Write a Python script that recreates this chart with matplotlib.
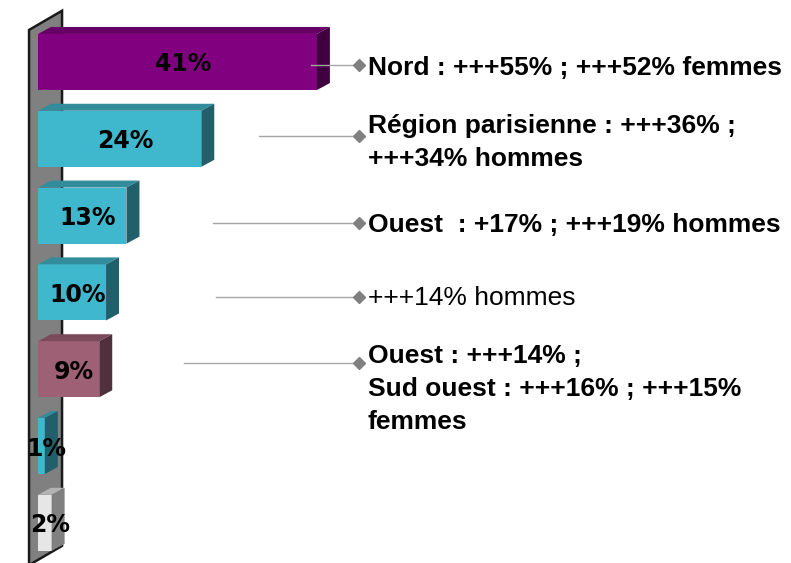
import matplotlib.pyplot as plt
from matplotlib.patches import Polygon

# bar values (top to bottom) and their labels
values = [41, 24, 13, 10, 9, 1, 2]
labels = ['41%', '24%', '13%', '10%', '9%', '1%', '2%']
bar_colors = ['purple', 'cyan', 'cyan', 'cyan', 'mauve', 'cyan', 'white']

# comments next to the first five bars
notes = [
    'Nord : +++55% ; +++52% femmes',
    'Région parisienne : +++36% ;\n+++34% hommes',
    'Ouest  : +17% ; +++19% hommes',
    '+++14% hommes',
    'Ouest : +++14% ;\nSud ouest : +++16% ; +++15%\nfemmes',
]
notes_bold = [True, True, True, False, True]

# callout layout: start of leader line (x), shift of line and first text baseline from bar centre (y)
note_line_x0 = [40.1, 32.5, 25.7, 26.2, 21.5]
note_line_dy = [0.04, -0.036, 0.096, 0.06, -0.08]
note_text_dy = [0.17, -0.076, 0.214, 0.164, -0.081]
line_step = 0.43

# front, top, side shades
shades = {
    'purple': ('#800080', '#660066', '#400040'),
    'cyan': ('#3fb7cd', '#328c9c', '#215f6b'),
    'mauve': ('#9e6075', '#7b4a5b', '#50303c'),
    'white': ('#e6e6e6', '#b3b3b3', '#808080'),
}

fig = plt.figure(figsize=(7.91, 5.63), dpi=100)
ax = fig.add_axes([0, 0, 1, 1])
ax.set_xlim(-5.59, 110.7)
ax.set_ylim(6.523, -0.807)
ax.axis('off')

h = 0.73            # bar thickness
dx, dy = 1.91, -0.091  # 3d depth of the bars

# back wall
wx, wdx, wdy = -1.32, 4.85, -0.25
wtop, wbot = -0.417, 6.55
wall = Polygon([(wx, wtop), (wx + wdx, wtop + wdy), (wx + wdx, wbot + wdy), (wx, wbot)],
               closed=True, fc='#808080', ec='#1a1a1a', lw=1.8, zorder=1)
ax.add_patch(wall)

ypos = list(range(len(values)))
ax.barh(ypos, values, height=h, color=[shades[c][0] for c in bar_colors], lw=0, zorder=2)

for i, (v, c) in enumerate(zip(values, bar_colors)):
    front, top, side = shades[c]
    y0, y1 = i - h / 2, i + h / 2
    ax.add_patch(Polygon([(0, y0), (v, y0), (v + dx, y0 + dy), (dx, y0 + dy)],
                         fc=top, lw=0, zorder=2))
    ax.add_patch(Polygon([(v, y0), (v + dx, y0 + dy), (v + dx, y1 + dy), (v, y1)],
                         fc=side, lw=0, zorder=2))
    ax.text(v / 2 + 0.8, i, labels[i], ha='center', va='center_baseline',
            fontsize=17, fontweight='bold', family='DejaVu Sans', zorder=5)

# callouts
mark_x, text_x = 47.2, 48.5
for i, note in enumerate(notes):
    yl = i + note_line_dy[i]
    ax.plot([note_line_x0[i], mark_x], [yl, yl], color='#a6a6a6', lw=1, zorder=3)
    ax.plot(mark_x, yl, marker='D', ms=6, color='#808080', zorder=4)
    for k, line in enumerate(note.split('\n')):
        ax.text(text_x, i + note_text_dy[i] + k * line_step, line, ha='left', va='baseline',
                fontsize=19, fontweight='bold' if notes_bold[i] else 'normal',
                family='Liberation Sans', zorder=5)

fig.savefig('out.png', dpi=100)
